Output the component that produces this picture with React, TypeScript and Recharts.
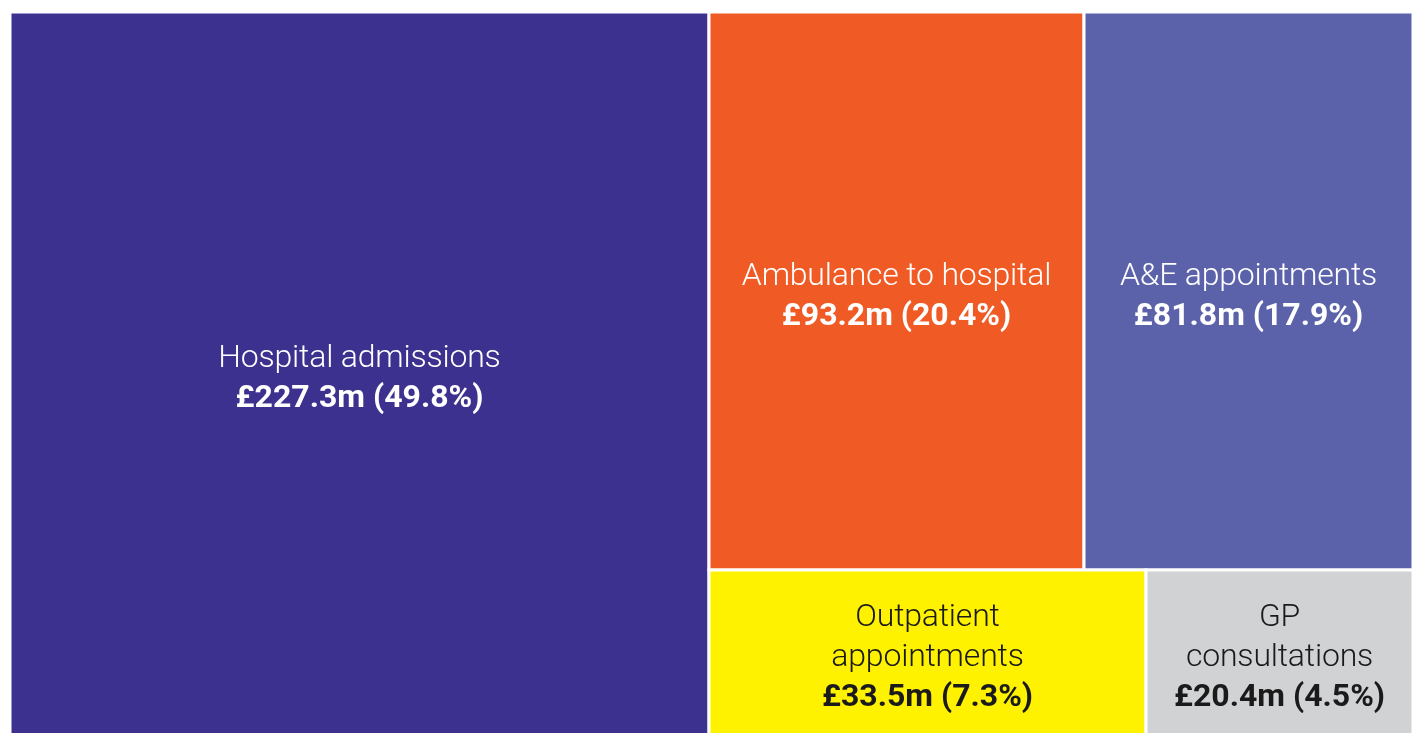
import { Treemap } from "recharts";

const categories = [
  "Hospital admissions",
  "Ambulance to hospital",
  "A&E appointments",
  "Outpatient appointments",
  "GP consultations",
];
const costs = [227.3, 93.2, 81.8, 33.5, 20.4];
const shares = [49.8, 20.4, 17.9, 7.3, 4.5];
const labelLines = [
  ["Hospital admissions"],
  ["Ambulance to hospital"],
  ["A&E appointments"],
  ["Outpatient", "appointments"],
  ["GP", "consultations"],
];
const fills = ["#3d3190", "#f05a24", "#5b62aa", "#fff200", "#d1d2d4"];
const textColors = ["#ffffff", "#ffffff", "#ffffff", "#1a1a1a", "#1a1a1a"];

const data = categories.map((name, i) => ({
  name,
  value: costs[i],
  share: shares[i],
  lines: labelLines[i],
  fill: fills[i],
  color: textColors[i],
}));

const LINE_H = 40;
const VISIBLE_H = 721;

const Cell = (props: any) => {
  const { x, y, width, height, depth, lines, value, share, fill, color } = props;
  if (depth !== 1) return null;
  const allLines = [...(lines || []), `£${value}m (${share}%)`];
  const n = allLines.length;
  const cx = x + width / 2;
  const midY = y + Math.min(height, VISIBLE_H - y) / 2 + 3;
  const startY = midY - ((n - 1) * LINE_H) / 2;
  return (
    <g>
      <rect x={x} y={y} width={width} height={height} fill={fill} stroke="#ffffff" strokeWidth={3} />
      {allLines.map((t, i) => (
        <text
          key={i}
          x={cx}
          y={startY + i * LINE_H}
          textAnchor="middle"
          dominantBaseline="central"
          fill={color}
          fontFamily="Roboto, sans-serif"
          fontSize={32}
          fontWeight={i === n - 1 ? 700 : 300}
          letterSpacing={i === n - 1 ? 0 : -0.2}
        >
          {t}
        </text>
      ))}
    </g>
  );
};

export default function App() {
  return (
    <div style={{ position: "fixed", left: 10, top: 12, height: VISIBLE_H, overflow: "hidden", width: 1404 }}>
      <Treemap
        width={1403}
        height={730}
        data={data}
        dataKey="value"
        nameKey="name"
        content={<Cell />}
        isAnimationActive={false}
      />
    </div>
  );
}
